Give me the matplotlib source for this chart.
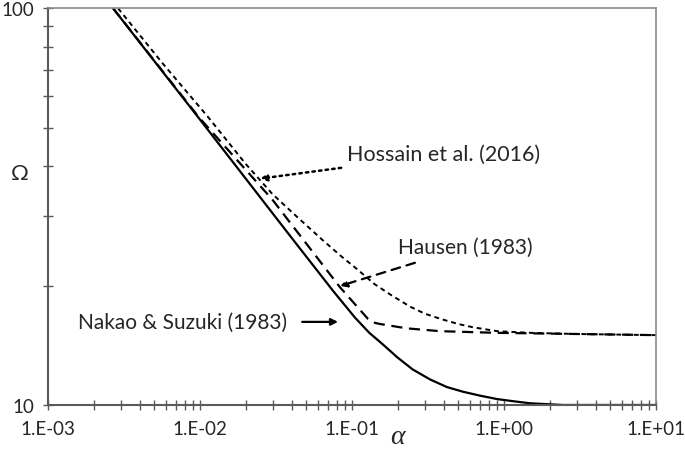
"""
Omega vs alpha, three models (log-log)
"""
import matplotlib
matplotlib.use("Agg")
import matplotlib.pyplot as plt
from matplotlib.ticker import FixedLocator, NullFormatter

# data
nakao_alpha = [0.00268, 0.0097, 0.0391, 0.075, 0.1047, 0.13, 0.16, 0.198,
               0.25, 0.326, 0.42, 0.537, 0.70, 0.90, 1.2, 1.48, 2.0, 2.44, 10.0]
nakao_omega = [100.0, 53.2, 26.7, 19.4, 16.6, 15.2, 14.2, 13.2,
               12.3, 11.6, 11.1, 10.8, 10.55, 10.35, 10.2, 10.1, 10.04, 10.0, 10.0]

hausen_alpha = [0.00268, 0.0098, 0.0298, 0.0834, 0.127, 0.142, 0.153, 0.230,
                0.379, 0.90, 3.0, 10.0]
hausen_omega = [100.0, 53.2, 33.0, 19.8, 16.5, 16.1, 16.0, 15.6,
                15.35, 15.2, 15.1, 15.0]

hossain_alpha = [0.00289, 0.0057, 0.0113, 0.02, 0.03, 0.0435, 0.0644, 0.085,
                 0.108, 0.14, 0.178, 0.241, 0.30, 0.379, 0.50, 0.625, 0.90,
                 1.5, 3.0, 10.0]
hossain_omega = [100.0, 72.5, 53.2, 40.5, 34.0, 29.8, 26.0, 23.7,
                 22.0, 20.2, 19.0, 17.7, 17.0, 16.5, 16.0, 15.7, 15.35,
                 15.2, 15.1, 15.0]

x_ticks = [1e-3, 1e-2, 1e-1, 1e0, 1e1]
x_ticklabels = ["1.E-03", "1.E-02", "1.E-01", "1.E+00", "1.E+01"]
y_ticks = [10, 100]
y_ticklabels = ["10", "100"]

plt.rcParams['font.family'] = ['Lato', 'DejaVu Sans']

fig = plt.figure(figsize=(6.85, 4.52), dpi=100)
ax = fig.add_axes([0.0701, 0.1018, 0.8876, 0.8776])

ax.plot(nakao_alpha, nakao_omega, color='k', lw=1.6, solid_capstyle='butt')
ax.plot(hausen_alpha, hausen_omega, color='k', lw=1.6, linestyle=(0, (5, 3)))
ax.plot(hossain_alpha, hossain_omega, color='k', lw=1.4, linestyle=(0, (2.5, 2)))

ax.set_xscale('log')
ax.set_yscale('log')
ax.set_xlim(1e-3, 1e1)
ax.set_ylim(10, 100)

ax.xaxis.set_major_locator(FixedLocator(x_ticks))
ax.set_xticklabels(x_ticklabels)
ax.yaxis.set_major_locator(FixedLocator(y_ticks))
ax.set_yticklabels(y_ticklabels)
minor_x = [m * 10.0 ** e for e in range(-3, 1) for m in range(2, 10)]
minor_y = [m * 10 for m in range(2, 10)]
ax.xaxis.set_minor_locator(FixedLocator(minor_x))
ax.yaxis.set_minor_locator(FixedLocator(minor_y))
ax.xaxis.set_minor_formatter(NullFormatter())
ax.yaxis.set_minor_formatter(NullFormatter())

ax.tick_params(which='both', direction='inout', length=7.5, width=1.0,
               color='#5a5a5a', labelsize=13.5, labelcolor='#262626')
ax.tick_params(axis='x', pad=7)
ax.tick_params(axis='y', pad=6)

for side in ['left', 'bottom']:
    ax.spines[side].set_color('#5a5a5a')
    ax.spines[side].set_linewidth(1.5)
for side in ['top', 'right']:
    ax.spines[side].set_color('#8a8a8a')
    ax.spines[side].set_linewidth(1.2)

ax.text(-0.046, 0.585, "Ω", transform=ax.transAxes, fontsize=16,
        ha='center', va='center', color='#262626')
ax.text(0.575, -0.08, "α", transform=ax.transAxes, fontsize=20,
        family='Liberation Serif', style='italic', ha='center', va='center',
        color='#262626')

ax.annotate("Hossain et al. (2016)", xy=(0.0248, 37.2), xytext=(0.0927, 42.9),
            fontsize=15.5, color='#262626', va='center', ha='left',
            arrowprops=dict(arrowstyle='-|>', color='k', lw=1.8,
                            linestyle=':', mutation_scale=10,
                            shrinkA=5, shrinkB=0))
ax.annotate("Hausen (1983)", xy=(0.0834, 19.95), xytext=(0.201, 25.0),
            fontsize=15, color='#262626', va='center', ha='left',
            arrowprops=dict(arrowstyle='-|>', color='k', lw=1.6,
                            linestyle=(0, (4, 3)), mutation_scale=10,
                            shrinkA=7, shrinkB=0))
ax.annotate("Nakao & Suzuki (1983)", xy=(0.0809, 16.2), xytext=(0.00157, 16.2),
            fontsize=15, color='#262626', va='center', ha='left',
            arrowprops=dict(arrowstyle='-|>', color='k', lw=1.6,
                            mutation_scale=10, shrinkA=9, shrinkB=0))

fig.savefig("out.png", dpi=100)
